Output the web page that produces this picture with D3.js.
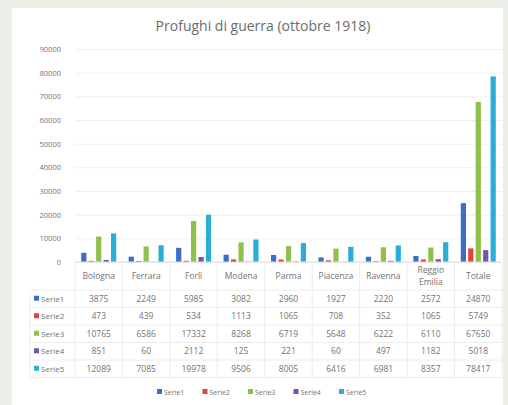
<!DOCTYPE html>
<html>
<head>
<meta charset="utf-8">
<script src="https://cdn.jsdelivr.net/npm/d3@7"></script>
<style>
  body { margin: 0; background: #e9eee6; }
  svg { display: block; }
  text { font-family: "Open Sans", "Liberation Sans", sans-serif; }
</style>
</head>
<body>
<div id="chart"></div>
<script>
// data
const categories = ["Bologna", "Ferrara", "Forlì", "Modena", "Parma", "Piacenza", "Ravenna", "Reggio Emilia", "Totale"];
const seriesNames = ["Serie1", "Serie2", "Serie3", "Serie4", "Serie5"];
const serie1 = [3875, 2249, 5985, 3082, 2960, 1927, 2220, 2572, 24870];
const serie2 = [473, 439, 534, 1113, 1065, 708, 352, 1065, 5749];
const serie3 = [10765, 6586, 17332, 8268, 6719, 5648, 6222, 6110, 67650];
const serie4 = [851, 60, 2112, 125, 221, 60, 497, 1182, 5018];
const serie5 = [12089, 7085, 19978, 9506, 8005, 6416, 6981, 8357, 78417];
const yTicks = [0, 10000, 20000, 30000, 40000, 50000, 60000, 70000, 80000, 90000];
const colors = ["#3d6fc1", "#e0463a", "#8fc14a", "#7a52a8", "#2aaed6"];

const allSeries = [serie1, serie2, serie3, serie4, serie5];

const width = 508, height = 405;
const plot = { left: 75, right: 502, top: 49, bottom: 262 };
const tableTop = 262, headerH = 28, rowH = 17.5, labelLeft = 30;
const textColor = '#737373';

const svg = d3.select('#chart')
  .append('svg')
  .attr('width', width)
  .attr('height', height);

// white chart panel
svg.append('rect')
  .attr('x', 12).attr('y', 8)
  .attr('width', 491).attr('height', 400)
  .attr('fill', '#ffffff');

svg.append('text')
  .attr('x', 263).attr('y', 31)
  .attr('text-anchor', 'middle')
  .attr('fill', '#6b6b6b')
  .style('font-size', '14px')
  .text('Profughi di guerra (ottobre 1918)');

const x = d3.scaleBand()
  .domain(categories)
  .range([plot.left, plot.right]);

const xInner = d3.scaleBand()
  .domain(seriesNames)
  .range([0, 35])
  .paddingInner(0.3);

const y = d3.scaleLinear()
  .domain([0, 90000])
  .range([plot.bottom, plot.top]);

// gridlines + tick labels
const yAxis = svg.append('g')
  .attr('transform', `translate(${plot.left},0)`)
  .call(d3.axisLeft(y).tickValues(yTicks).tickSize(-(plot.right - plot.left)).tickPadding(14).tickFormat(d3.format('d')));
yAxis.select('.domain').remove();
yAxis.selectAll('.tick line').attr('stroke', '#efefef');
yAxis.selectAll('.tick text').attr('fill', textColor).style('font-size', '7.5px');

// bars
const groups = svg.selectAll('g.cat')
  .data(categories)
  .enter()
  .append('g')
  .attr('class', 'cat')
  .attr('transform', d => `translate(${x(d) + (x.bandwidth() - 35) / 2},0)`);

groups.selectAll('rect')
  .data((d, i) => seriesNames.map((s, j) => ({ s: s, v: allSeries[j][i], c: colors[j] })))
  .enter()
  .append('rect')
  .attr('x', d => xInner(d.s))
  .attr('y', d => y(d.v))
  .attr('width', xInner.bandwidth())
  .attr('height', d => y(0) - y(d.v))
  .attr('fill', d => d.c);

// data table
const tableBottom = tableTop + headerH + rowH * seriesNames.length;
const lineColor = '#ececec';
const table = svg.append('g');

table.append('line')
  .attr('x1', plot.left).attr('x2', plot.right)
  .attr('y1', tableTop).attr('y2', tableTop)
  .attr('stroke', '#dedede');

categories.forEach(c => {
  table.append('line')
    .attr('x1', x(c) + x.bandwidth()).attr('x2', x(c) + x.bandwidth())
    .attr('y1', tableTop).attr('y2', tableBottom)
    .attr('stroke', lineColor);
});
table.append('line')
  .attr('x1', plot.left).attr('x2', plot.left)
  .attr('y1', tableTop).attr('y2', tableBottom)
  .attr('stroke', lineColor);
table.append('line')
  .attr('x1', labelLeft).attr('x2', labelLeft)
  .attr('y1', tableTop + headerH).attr('y2', tableBottom)
  .attr('stroke', lineColor);

d3.range(seriesNames.length + 1).forEach(i => {
  const yy = tableTop + headerH + rowH * i;
  table.append('line')
    .attr('x1', labelLeft).attr('x2', plot.right)
    .attr('y1', yy).attr('y2', yy)
    .attr('stroke', lineColor);
});

// header labels
table.selectAll('text.head')
  .data(categories)
  .enter()
  .append('text')
  .attr('class', 'head')
  .attr('text-anchor', 'middle')
  .attr('fill', textColor)
  .style('font-size', '8.5px')
  .attr('x', d => x(d) + x.bandwidth() / 2)
  .attr('y', tableTop + headerH / 2 + 3)
  .each(function (d) {
    const parts = d.split(' ');
    if (parts.length > 1) {
      d3.select(this).attr('y', tableTop + 11);
      parts.forEach((p, k) => {
        d3.select(this).append('tspan')
          .attr('x', x(d) + x.bandwidth() / 2)
          .attr('dy', k === 0 ? 0 : 12)
          .text(p);
      });
    } else {
      d3.select(this).text(d);
    }
  });

// row labels + values
seriesNames.forEach((s, j) => {
  const cy = tableTop + headerH + rowH * j + rowH / 2;
  table.append('rect')
    .attr('x', labelLeft + 4).attr('y', cy - 3)
    .attr('width', 5).attr('height', 5)
    .attr('fill', colors[j]);
  table.append('text')
    .attr('x', labelLeft + 11).attr('y', cy + 3)
    .attr('fill', textColor)
    .style('font-size', '8px')
    .text(s);
  table.selectAll(null)
    .data(allSeries[j])
    .enter()
    .append('text')
    .attr('x', (d, i) => x(categories[i]) + x.bandwidth() / 2)
    .attr('y', cy + 3)
    .attr('text-anchor', 'middle')
    .attr('fill', textColor)
    .style('font-size', '8.5px')
    .text(d => d);
});

// legend
const legend = svg.append('g')
  .attr('transform', 'translate(157,392)');
const legItems = legend.selectAll('g')
  .data(seriesNames)
  .enter()
  .append('g')
  .attr('transform', (d, i) => `translate(${i * 45.5},0)`);
legItems.append('rect')
  .attr('x', 0).attr('y', -3)
  .attr('width', 5).attr('height', 5)
  .attr('fill', (d, i) => colors[i]);
legItems.append('text')
  .attr('x', 7).attr('y', 2.5)
  .attr('fill', textColor)
  .style('font-size', '7px')
  .text(d => d);
</script>
</body>
</html>
